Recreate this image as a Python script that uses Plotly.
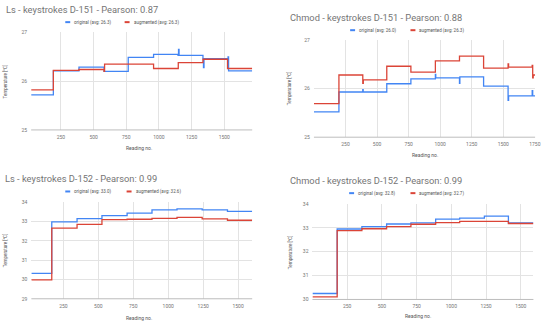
import plotly.graph_objects as go

W, H = 550, 327

# ---------------- data ----------------
titles = ["Ls - keystrokes D-151 - Pearson: 0.87",
          "Chmod - keystrokes D-151 - Pearson: 0.88",
          "Ls - keystrokes D-152 - Pearson: 0.99",
          "Chmod - keystrokes D-152 - Pearson: 0.99"]
orig_labels = ["original (avg: 26.3)", "original (avg: 26.0)",
               "original (avg: 33.0)", "original (avg: 32.8)"]
aug_labels = ["augmented (avg: 26.3)", "augmented (avg: 26.3)",
              "augmented (avg: 32.6)", "augmented (avg: 32.7)"]

# Panel 1: Ls D-151
ls151_x_orig = [22, 192, 388, 580, 765, 959, 1146, 1150, 1154, 1337, 1341, 1345, 1525, 1529, 1533, 1714]
ls151_orig = [25.72, 26.21, 26.29, 26.20, 26.49, 26.55, 26.53, 26.65, 26.53, 26.46, 26.28, 26.46, 26.46, 26.50, 26.21, 26.21]
ls151_x_aug = [22, 192, 388, 580, 584, 765, 959, 1148, 1337, 1525, 1714]
ls151_aug = [25.82, 26.22, 26.24, 26.20, 26.35, 26.35, 26.26, 26.38, 26.45, 26.26, 26.26]

# Panel 2: Chmod D-151
ch151_x_orig = [0, 198, 387, 390, 577, 768, 962, 965, 1153, 1156, 1344, 1538, 1542, 1729, 1733, 1752]
ch151_orig = [25.52, 25.93, 25.98, 25.93, 26.10, 26.20, 26.29, 26.22, 26.11, 26.24, 26.05, 25.76, 25.85, 25.96, 25.85, 25.85]
ch151_x_aug = [0, 198, 387, 391, 577, 768, 962, 1153, 1344, 1538, 1542, 1729, 1733, 1737, 1752]
ch151_aug = [25.69, 26.28, 26.11, 26.18, 26.46, 26.34, 26.57, 26.67, 26.42, 26.51, 26.44, 26.48, 26.22, 26.28, 26.28]

# Panel 3: Ls D-152
ls152_x = [21, 167, 348, 526, 706, 884, 1063, 1243, 1424, 1601]
ls152_orig = [30.32, 32.98, 33.15, 33.31, 33.44, 33.61, 33.66, 33.61, 33.53, 33.53]
ls152_aug = [29.98, 32.66, 32.86, 33.10, 33.12, 33.17, 33.22, 33.14, 33.07, 33.07]

# Panel 4: Chmod D-152
ch152_x = [0, 178, 356, 534, 709, 887, 1060, 1238, 1411, 1591]
ch152_orig = [30.25, 32.95, 33.05, 33.16, 33.21, 33.36, 33.41, 33.49, 33.21, 33.21]
ch152_aug = [30.11, 32.88, 32.96, 33.05, 33.15, 33.22, 33.27, 33.27, 33.18, 33.18]

x_ticks = [250, 500, 750, 1000, 1250, 1500, 1750]

BLUE = "#4285f4"
RED = "#db4437"
GRID = "#e3e3e3"
TXT = "#757575"
FONT = "Roboto"

# ---------------- layout geometry (pixels) ----------------
panels = [
    dict(x0=31.5, x1=255, ytop=30, ybot=129.3, xr=[22, 1714], yr=[25, 27], yt=[25, 26, 27],
         title=(4, 7), leg_y=19.5, leg_b=66, leg_r=126, xt=(141, 148), yt_pos=(5, 80)),
    dict(x0=317.4, x1=541, ytop=37.7, ybot=136.7, xr=[0, 1752], yr=[25, 27], yt=[25, 26, 27],
         title=(291, 15), leg_y=27.7, leg_b=354, leg_r=415, xt=(430, 155), yt_pos=(293, 87)),
    dict(x0=31.7, x1=255, ytop=203, ybot=301.3, xr=[21, 1601], yr=[29, 34], yt=[29, 30, 31, 32, 33, 34],
         title=(3, 179), leg_y=192, leg_b=66, leg_r=128, xt=(141, 321), yt_pos=(5, 252)),
    dict(x0=315.9, x1=539.3, ytop=204.7, ybot=302, xr=[0, 1591], yr=[30, 34], yt=[30, 31, 32, 33, 34],
         title=(291, 181), leg_y=193.7, leg_b=353, leg_r=415, xt=(423, 319), yt_pos=(294, 254)),
]

series = [
    (ls151_x_orig, ls151_orig, ls151_x_aug, ls151_aug),
    (ch151_x_orig, ch151_orig, ch151_x_aug, ch151_aug),
    (ls152_x, ls152_orig, ls152_x, ls152_aug),
    (ch152_x, ch152_orig, ch152_x, ch152_aug),
]

fig = go.Figure()
layout = dict(width=W, height=H, margin=dict(l=0, r=0, t=0, b=0),
              paper_bgcolor="white", plot_bgcolor="white", showlegend=False,
              font=dict(family=FONT, color=TXT))
annotations = []
shapes = []


def px(x):
    return x / W


def py(y):
    return 1 - y / H


for i, (p, s) in enumerate(zip(panels, series)):
    n = "" if i == 0 else str(i + 1)
    xa, ya = "x" + n, "y" + n
    xo, yo, xa_, ya_ = s
    fig.add_trace(go.Scatter(x=xo, y=yo, mode="lines", line=dict(color=BLUE, width=1.3, shape="hv"),
                             xaxis=xa, yaxis=ya, name=orig_labels[i]))
    fig.add_trace(go.Scatter(x=xa_, y=ya_, mode="lines", line=dict(color=RED, width=1.3, shape="hv"),
                             xaxis=xa, yaxis=ya, name=aug_labels[i]))
    layout["xaxis" + n] = dict(domain=[px(p["x0"]), px(p["x1"])], range=p["xr"], anchor=ya,
                               tickvals=[t for t in x_ticks if p["xr"][0] < t <= p["xr"][1]],
                               showgrid=True, gridcolor=GRID, gridwidth=1, zeroline=False,
                               showline=False, ticks="", ticklabelstandoff=3,
                               tickfont=dict(size=5, color=TXT, family=FONT))
    layout["yaxis" + n] = dict(domain=[py(p["ybot"]), py(p["ytop"])], range=p["yr"], anchor=xa,
                               tickvals=p["yt"], showgrid=True, gridcolor=GRID, gridwidth=1,
                               zeroline=False, showline=False, ticks="", ticklabelstandoff=3,
                               tickfont=dict(size=5, color=TXT, family=FONT))
    # baseline
    shapes.append(dict(type="line", xref="paper", yref="paper", x0=px(p["x0"]), x1=px(p["x1"]),
                       y0=py(p["ybot"]), y1=py(p["ybot"]), line=dict(color="#bdbdbd", width=1)))
    # title
    annotations.append(dict(text=titles[i], xref="paper", yref="paper", x=px(p["title"][0]),
                            y=py(p["title"][1]), xanchor="left", yanchor="middle", showarrow=False,
                            font=dict(size=9.3, color=TXT, family=FONT)))
    # legend
    for cx, col, lab in ((p["leg_b"], BLUE, orig_labels[i]), (p["leg_r"], RED, aug_labels[i])):
        shapes.append(dict(type="line", xref="paper", yref="paper", x0=px(cx), x1=px(cx + 5),
                           y0=py(p["leg_y"]), y1=py(p["leg_y"]), line=dict(color=col, width=2)))
        annotations.append(dict(text=lab, xref="paper", yref="paper", x=px(cx + 7), y=py(p["leg_y"]),
                                xanchor="left", yanchor="middle", showarrow=False,
                                font=dict(size=4.5, color="#555555", family=FONT)))
    # axis titles
    annotations.append(dict(text="Reading no.", xref="paper", yref="paper", x=px(p["xt"][0]),
                            y=py(p["xt"][1]), xanchor="center", yanchor="middle", showarrow=False,
                            font=dict(size=5, color="#555555", family=FONT)))
    annotations.append(dict(text="Temperature [°C]", xref="paper", yref="paper", x=px(p["yt_pos"][0]),
                            y=py(p["yt_pos"][1]), xanchor="center", yanchor="middle", showarrow=False,
                            textangle=-90, font=dict(size=4.5, color="#555555", family=FONT)))

layout["annotations"] = annotations
layout["shapes"] = shapes
fig.update_layout(**layout)
fig.write_html("out.html", config={"displayModeBar": False},
               post_script="document.body.style.margin='0px';document.body.style.overflow='hidden';")
